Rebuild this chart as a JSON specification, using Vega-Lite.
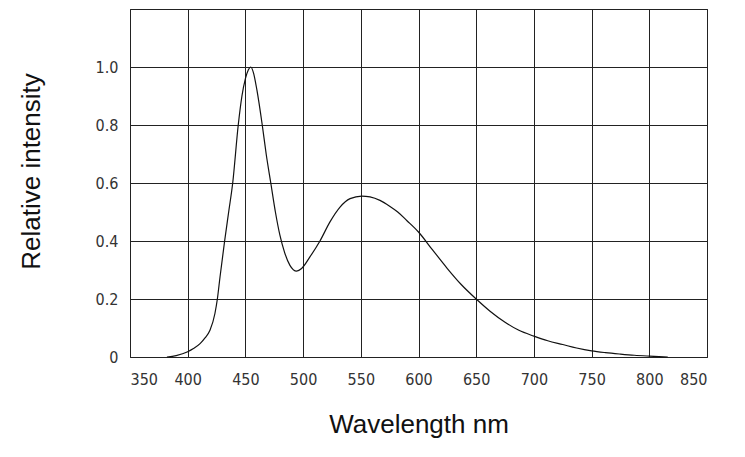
{
  "$schema": "https://vega.github.io/schema/vega-lite/v6.json",
  "width": 577,
  "height": 348,
  "autosize": {"type": "none"},
  "padding": {"left": 130, "top": 9, "right": 38, "bottom": 100},
  "background": "white",
  "config": {
    "view": {"stroke": "#222", "strokeWidth": 1},
    "axis": {
      "domain": false,
      "ticks": false,
      "grid": true,
      "gridColor": "#222",
      "gridOpacity": 1,
      "gridWidth": 1,
      "labelFont": "DejaVu Sans Condensed, Liberation Sans Narrow, sans-serif",
      "labelFontSize": 16,
      "labelColor": "#333",
      "titleFont": "Liberation Sans, Arial, sans-serif",
      "titleFontSize": 26,
      "titleFontWeight": "normal",
      "titleColor": "#111"
    }
  },
  "data": {
    "values": [
      {"wl": 382, "v": 0},
      {"wl": 390, "v": 0.005},
      {"wl": 400, "v": 0.018},
      {"wl": 405, "v": 0.029},
      {"wl": 410.7, "v": 0.046},
      {"wl": 415, "v": 0.066},
      {"wl": 419.3, "v": 0.092},
      {"wl": 423.6, "v": 0.15},
      {"wl": 425.7, "v": 0.2},
      {"wl": 428, "v": 0.276},
      {"wl": 432, "v": 0.4},
      {"wl": 435.5, "v": 0.5},
      {"wl": 439, "v": 0.6},
      {"wl": 443.8, "v": 0.8},
      {"wl": 447, "v": 0.9},
      {"wl": 450, "v": 0.96},
      {"wl": 452.5, "v": 0.99},
      {"wl": 454.6, "v": 1.0},
      {"wl": 457, "v": 0.98},
      {"wl": 460, "v": 0.92},
      {"wl": 464.6, "v": 0.8},
      {"wl": 468, "v": 0.7},
      {"wl": 472, "v": 0.6},
      {"wl": 476, "v": 0.5},
      {"wl": 479.9, "v": 0.42},
      {"wl": 484, "v": 0.36},
      {"wl": 488.6, "v": 0.316},
      {"wl": 494.4, "v": 0.296},
      {"wl": 498.7, "v": 0.305},
      {"wl": 505.9, "v": 0.345},
      {"wl": 514.6, "v": 0.4},
      {"wl": 523.3, "v": 0.466},
      {"wl": 532, "v": 0.517},
      {"wl": 540.7, "v": 0.546},
      {"wl": 550.8, "v": 0.555},
      {"wl": 558, "v": 0.552},
      {"wl": 566.6, "v": 0.54},
      {"wl": 575, "v": 0.52},
      {"wl": 582, "v": 0.5},
      {"wl": 590, "v": 0.47},
      {"wl": 600, "v": 0.431},
      {"wl": 612, "v": 0.37},
      {"wl": 625, "v": 0.305},
      {"wl": 637, "v": 0.25},
      {"wl": 650, "v": 0.2},
      {"wl": 662, "v": 0.158},
      {"wl": 675, "v": 0.12},
      {"wl": 687, "v": 0.092},
      {"wl": 700, "v": 0.072},
      {"wl": 712, "v": 0.056},
      {"wl": 725, "v": 0.043},
      {"wl": 737, "v": 0.031},
      {"wl": 750, "v": 0.021},
      {"wl": 762, "v": 0.015},
      {"wl": 775, "v": 0.01},
      {"wl": 787, "v": 0.006},
      {"wl": 800, "v": 0.003},
      {"wl": 816, "v": 0}
    ]
  },
  "mark": {"type": "line", "color": "#111", "strokeWidth": 1.2, "interpolate": "monotone"},
  "encoding": {
    "x": {
      "field": "wl",
      "type": "quantitative",
      "scale": {"domain": [350, 850], "nice": false, "zero": false},
      "axis": {
        "values": [350, 400, 450, 500, 550, 600, 650, 700, 750, 800, 850],
        "title": "Wavelength nm",
        "labelPadding": 14,
        "titlePadding": 24
      }
    },
    "y": {
      "field": "v",
      "type": "quantitative",
      "scale": {"domain": [0, 1.2], "nice": false},
      "axis": {
        "values": [0, 0.2, 0.4, 0.6, 0.8, 1.0, 1.2],
        "labelExpr": "datum.value == 0 ? '0' : (datum.value > 1.1 ? '' : format(datum.value, '.1f'))",
        "title": "Relative intensity",
        "labelPadding": 12,
        "titleX": -86,
        "titleY": 162
      }
    }
  }
}
